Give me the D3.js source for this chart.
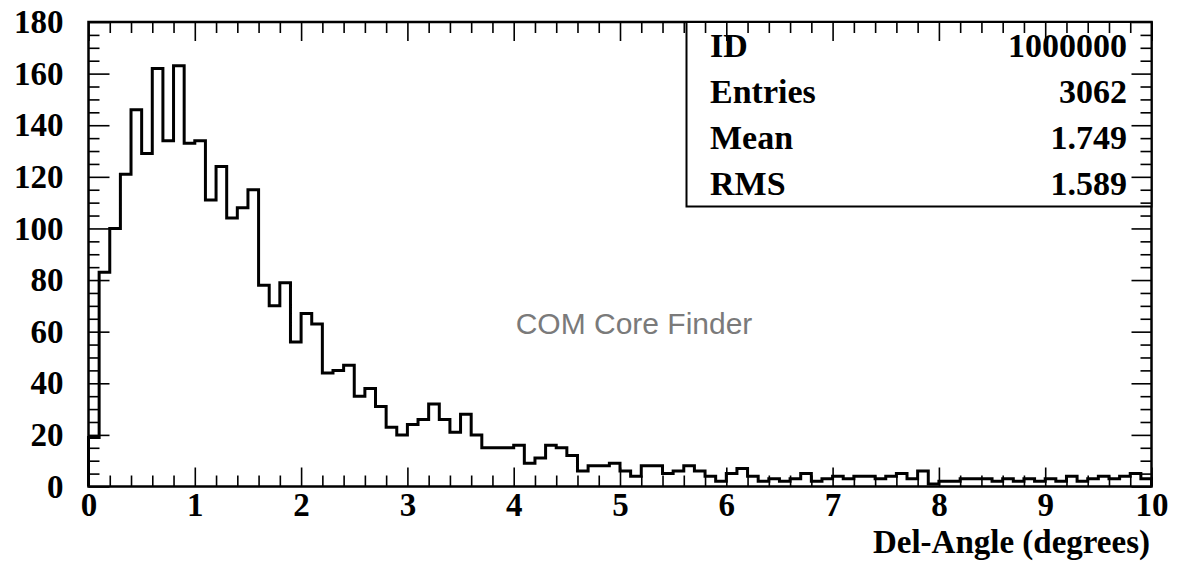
<!DOCTYPE html>
<html lang="en">
<head>
    <meta charset="UTF-8">
    <script src="https://d3js.org/d3.v7.min.js"></script>
    <style>
        body {margin: 0; background-color: #ffffff}
        svg {display: block}
        .lbl {font-family: "Liberation Serif", "Times New Roman", serif; font-weight: bold; fill: #000}
    </style>
</head>
<body>
<svg class="chart" width="1178" height="571"></svg>
<script type="text/javascript">
    // histogram: 100 bins of width 0.1 from 0 to 10
    const binWidth = 0.1;
    const counts = [
        19, 83, 100, 121, 146, 129, 162, 134, 163, 133,
        134, 111, 124, 104, 108, 115, 78, 70, 79, 56,
        67, 63, 44, 45, 47, 35, 38, 31, 23, 20,
        24, 26, 32, 26, 21, 28, 20, 15, 15, 15,
        16, 9, 11, 16, 15, 12, 6, 8, 8, 9,
        6, 4, 8, 8, 5, 6, 8, 6, 4, 2,
        5, 7, 4, 2, 3, 2, 3, 5, 2, 3,
        4, 3, 4, 4, 3, 4, 5, 3, 6, 1,
        2, 2, 3, 3, 3, 2, 3, 2, 3, 2,
        3, 2, 4, 2, 3, 4, 3, 4, 5, 3
    ];
    const xMajor = [0, 1, 2, 3, 4, 5, 6, 7, 8, 9, 10];
    const yMajor = [0, 20, 40, 60, 80, 100, 120, 140, 160, 180];
    const statNames = ["ID", "Entries", "Mean", "RMS"];
    const statValues = ["1000000", "3062", "1.749", "1.589"];
    const xTitle = "Del-Angle (degrees)";
    const note = "COM Core Finder";

    let pLeft = 88.5, pRight = 1151.5, pTop = 22, pBottom = 486.5;

    var x = d3.scaleLinear().domain([0, 10]).range([pLeft, pRight]);
    var y = d3.scaleLinear().domain([0, 180]).range([pBottom, pTop]);

    var svg = d3.select('.chart');

    let xMinor = d3.range(0, 50).map(d => d * 0.2).filter(d => Math.abs(d - Math.round(d)) > 1e-6);
    let yMinor = d3.range(0, 37).map(d => d * 5).filter(d => d % 20 !== 0);

    function styleAxis(g) {
        g.select('.domain').remove();
        g.selectAll('line').attr('stroke', '#000').attr('stroke-width', 1.6);
        g.selectAll('text').attr('class', 'lbl').attr('font-size', 33).attr('fill', '#000');
    }

    // bottom
    svg.append('g').attr('transform', `translate(0,${pBottom})`)
        .call(d3.axisBottom(x).tickValues(xMinor).tickSize(-11).tickFormat('')).call(styleAxis);
    svg.append('g').attr('transform', `translate(0,${pBottom})`)
        .call(d3.axisBottom(x).tickValues(xMajor).tickSize(-19).tickPadding(6).tickFormat(d3.format('d'))).call(styleAxis);
    // top
    svg.append('g').attr('transform', `translate(0,${pTop})`)
        .call(d3.axisTop(x).tickValues(xMinor).tickSize(-11).tickFormat('')).call(styleAxis);
    svg.append('g').attr('transform', `translate(0,${pTop})`)
        .call(d3.axisTop(x).tickValues(xMajor).tickSize(-19).tickFormat('')).call(styleAxis);
    // left
    svg.append('g').attr('transform', `translate(${pLeft},0)`)
        .call(d3.axisLeft(y).tickValues(yMinor).tickSize(-11).tickFormat('')).call(styleAxis);
    svg.append('g').attr('transform', `translate(${pLeft},0)`)
        .call(d3.axisLeft(y).tickValues(yMajor).tickSize(-21).tickPadding(25).tickFormat(d3.format('d'))).call(styleAxis);
    // right
    svg.append('g').attr('transform', `translate(${pRight},0)`)
        .call(d3.axisRight(y).tickValues(yMinor).tickSize(-11).tickFormat('')).call(styleAxis);
    svg.append('g').attr('transform', `translate(${pRight},0)`)
        .call(d3.axisRight(y).tickValues(yMajor).tickSize(-20).tickFormat('')).call(styleAxis);

    // histogram outline
    let pts = [[0, 0]];
    counts.forEach((c, i) => pts.push([i * binWidth, c]));
    pts.push([counts.length * binWidth, counts[counts.length - 1]]);
    pts.push([counts.length * binWidth, 0]);

    var line = d3.line().x(d => x(d[0])).y(d => y(d[1])).curve(d3.curveStepAfter);
    svg.append('path').datum(pts)
        .attr('d', line)
        .attr('fill', 'none')
        .attr('stroke', '#000')
        .attr('stroke-width', 3);

    // frame
    svg.append('rect')
        .attr('x', pLeft).attr('y', pTop)
        .attr('width', pRight - pLeft).attr('height', pBottom - pTop)
        .attr('fill', 'none').attr('stroke', '#000').attr('stroke-width', 2.5);

    // stats box
    let boxLeft = 686.5, boxBottom = 206.5;
    svg.append('rect')
        .attr('x', boxLeft).attr('y', pTop)
        .attr('width', pRight - boxLeft).attr('height', boxBottom - pTop)
        .attr('fill', '#fff').attr('stroke', '#000').attr('stroke-width', 2);

    statNames.forEach((s, i) => {
        svg.append('text').attr('class', 'lbl').attr('font-size', 34)
            .attr('x', 710).attr('y', 57 + i * 46).text(s);
        svg.append('text').attr('class', 'lbl').attr('font-size', 34)
            .attr('x', 1127).attr('y', 57 + i * 46).attr('text-anchor', 'end').text(statValues[i]);
    });

    // ticks drawn again over the box on the top and right edges
    svg.append('g').attr('transform', `translate(0,${pTop})`)
        .call(d3.axisTop(x).tickValues(xMinor.filter(d => x(d) > boxLeft)).tickSize(-11).tickFormat('')).call(styleAxis);
    svg.append('g').attr('transform', `translate(0,${pTop})`)
        .call(d3.axisTop(x).tickValues(xMajor.filter(d => x(d) > boxLeft)).tickSize(-19).tickFormat('')).call(styleAxis);
    svg.append('g').attr('transform', `translate(${pRight},0)`)
        .call(d3.axisRight(y).tickValues(yMinor.filter(d => y(d) < boxBottom)).tickSize(-11).tickFormat('')).call(styleAxis);
    svg.append('g').attr('transform', `translate(${pRight},0)`)
        .call(d3.axisRight(y).tickValues(yMajor.filter(d => y(d) < boxBottom)).tickSize(-20).tickFormat('')).call(styleAxis);

    // annotation
    svg.append('text')
        .attr('x', 634).attr('y', 334)
        .attr('text-anchor', 'middle')
        .attr('font-family', '"Liberation Sans", Arial, sans-serif')
        .attr('font-size', 30)
        .attr('fill', '#7a7a7a')
        .text(note);

    // x title
    svg.append('text').attr('class', 'lbl').attr('font-size', 33)
        .attr('x', 1150).attr('y', 553)
        .attr('text-anchor', 'end')
        .text(xTitle);
</script>
</body>
</html>
